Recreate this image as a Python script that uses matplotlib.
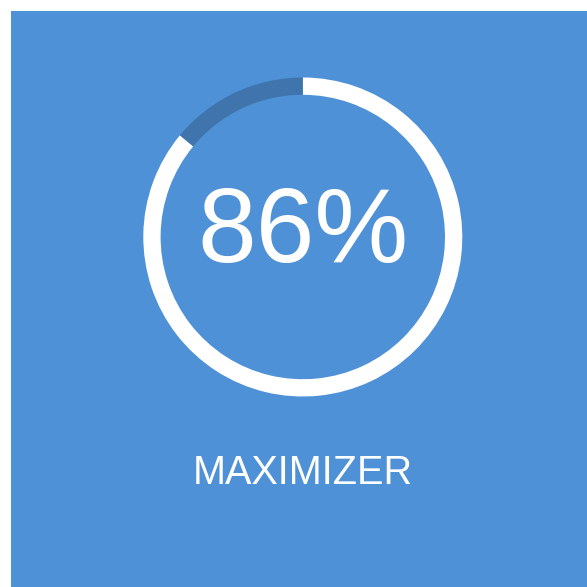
import matplotlib.pyplot as plt
from matplotlib.patches import Rectangle

# gauge data
percent = 86
label = 'MAXIMIZER'
values = [percent, 100 - percent]
colors = ['#ffffff', '#3f75ac']
bg_color = '#4f91d6'

W = H = 587
fig = plt.figure(figsize=(W / 100, H / 100), dpi=100)
fig.patch.set_facecolor('white')
ax = fig.add_axes([0, 0, 1, 1])

# blue card (white strip on top and left)
ax.add_patch(Rectangle((11, 0), W - 11, H - 11, facecolor=bg_color, edgecolor='none', zorder=0))

cx, cy = 302.8, H - 237
r_out, ring = 159.5, 17.3
ax.pie(values, colors=colors, startangle=90, counterclock=False,
       center=(cx, cy), radius=r_out,
       wedgeprops=dict(width=ring, edgecolor='none', linewidth=0))

ax.text(cx, H - 262, f'{percent}%', color='white', fontsize=76,
        family='Liberation Sans', ha='center', va='baseline')
ax.text(cx, H - 484.5, label, color='white', fontsize=28.5,
        family='Liberation Sans', ha='center', va='baseline')

ax.set_xlim(0, W)
ax.set_ylim(0, H)
ax.set_aspect('auto')
ax.axis('off')

fig.savefig('out.png', dpi=100, facecolor=fig.get_facecolor())
